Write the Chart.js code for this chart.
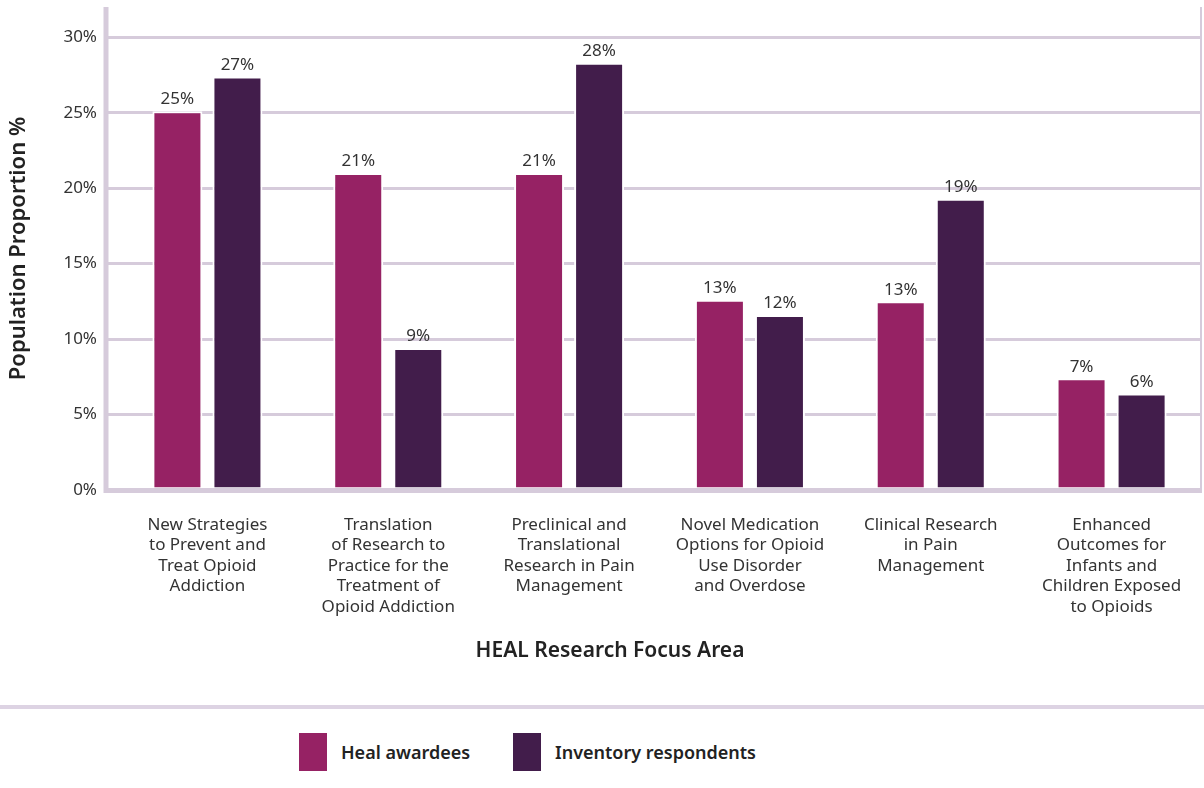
<!DOCTYPE html>
<html>
<head>
<meta charset="utf-8">
<script src="https://cdn.jsdelivr.net/npm/chart.js@4.4.1/dist/chart.umd.min.js"></script>
<style>
  body { margin: 0; background: #fff; font-family: "Noto Sans", sans-serif; }
  #wrap { width: 1204px; height: 788px; position: relative; }
  #legend { position: absolute; left: 0; top: 705px; width: 1204px; height: 83px;
            border-top: 4px solid #ddd3e3; box-sizing: border-box; }
  .item { position: absolute; top: 24px; display: flex; align-items: center;
          font-size: 18px; font-weight: 600; color: #222; }
  .box { width: 28px; height: 38px; margin-right: 14px; }
</style>
</head>
<body>
<div id="wrap">
  <canvas id="chart" width="1204" height="705"></canvas>
  <div id="legend"></div>
</div>
<script>
var categories = [
    ["New Strategies", "to Prevent and", "Treat Opioid", "Addiction"],
    ["Translation", "of Research to", "Practice for the", "Treatment of", "Opioid Addiction"],
    ["Preclinical and", "Translational", "Research in Pain", "Management"],
    ["Novel Medication", "Options for Opioid", "Use Disorder", "and Overdose"],
    ["Clinical Research", "in Pain", "Management"],
    ["Enhanced", "Outcomes for", "Infants and", "Children Exposed", "to Opioids"]
];
var healAwardees = [25.1, 21.0, 21.0, 12.6, 12.5, 7.4];
var inventoryRespondents = [27.4, 9.4, 28.3, 11.6, 19.3, 6.4];
var yTicks = [0, 5, 10, 15, 20, 25, 30];

var gridColor = '#d6cbdb';
var textColor = '#333';
var font = '"Noto Sans", sans-serif';

// axis frame lines and x title
var framePlugin = {
    id: 'frame',
    beforeDatasetsDraw: function (chart) {
        var ctx = chart.ctx, a = chart.chartArea;
        ctx.save();
        ctx.strokeStyle = gridColor;
        ctx.lineWidth = 5;
        ctx.beginPath();
        ctx.moveTo(a.left - 11, a.top);
        ctx.lineTo(a.left - 11, a.bottom + 3);
        ctx.stroke();
        ctx.lineWidth = 2;
        ctx.beginPath();
        ctx.moveTo(a.right - 1, a.top);
        ctx.lineTo(a.right - 1, a.bottom);
        ctx.stroke();
        ctx.restore();
    },
    afterDraw: function (chart) {
        var ctx = chart.ctx;
        ctx.save();
        ctx.fillStyle = '#222';
        ctx.font = '600 21px ' + font;
        ctx.textAlign = 'center';
        ctx.textBaseline = 'middle';
        ctx.fillText('HEAL Research Focus Area', 610, 651);
        ctx.restore();
    }
};

// value labels above bars
var valuePlugin = {
    id: 'values',
    afterDatasetsDraw: function (chart) {
        var ctx = chart.ctx;
        ctx.save();
        ctx.fillStyle = textColor;
        ctx.font = '17px ' + font;
        ctx.textAlign = 'center';
        ctx.textBaseline = 'bottom';
        chart.data.datasets.forEach(function (ds, i) {
            chart.getDatasetMeta(i).data.forEach(function (bar, j) {
                ctx.fillText(Math.round(ds.data[j]) + '%', bar.x, bar.y - 3);
            });
        });
        ctx.restore();
    }
};

var ctx = document.getElementById("chart");

var data = {
    labels: categories,
    datasets: [
        {
            label: 'Heal awardees',
            data: healAwardees,
            backgroundColor: '#962264',
            borderColor: '#fff',
            borderWidth: 2
        },
        {
            label: 'Inventory respondents',
            data: inventoryRespondents,
            backgroundColor: '#421d4b',
            borderColor: '#fff',
            borderWidth: 2
        }
    ]
};

var chart = new Chart(ctx, {
    type: 'bar',
    data: data,
    plugins: [framePlugin, valuePlugin],
    options: {
        responsive: false,
        animation: false,
        layout: { padding: { top: 7, right: 2, left: 0, bottom: 0 } },
        datasets: { bar: { barPercentage: 0.833, categoryPercentage: 0.664 } },
        plugins: {
            legend: { display: false },
            tooltip: { enabled: false }
        },
        scales: {
            x: {
                grid: { display: false },
                border: { display: false },
                ticks: {
                    autoSkip: false,
                    maxRotation: 0,
                    padding: 17,
                    color: textColor,
                    font: { family: font, size: 17, lineHeight: 1.2 }
                },
                afterFit: function (scale) {
                    scale.height = 215;
                    scale.paddingLeft = 0;
                    scale.paddingRight = 0;
                }
            },
            y: {
                min: 0,
                max: 32,
                border: { display: false },
                grid: {
                    color: gridColor,
                    lineWidth: function (c) { return c.tick && c.tick.value === 0 ? 5 : 3; },
                    tickLength: 11
                },
                ticks: {
                    stepSize: 5,
                    padding: 9,
                    color: textColor,
                    font: { family: font, size: 17 },
                    callback: function (v) { return v + '%'; }
                },
                afterBuildTicks: function (scale) {
                    scale.ticks = yTicks.map(function (v) { return { value: v }; });
                },
                title: {
                    display: true,
                    text: 'Population Proportion %',
                    color: '#222',
                    padding: 6,
                    font: { family: font, size: 22, weight: '600' }
                },
                afterFit: function (scale) {
                    scale.width = 117;
                    scale.paddingTop = 0;
                    scale.paddingBottom = 0;
                }
            }
        }
    }
});

// legend below the chart
var legend = document.getElementById('legend');
var legendLeft = [299, 513];
data.datasets.forEach(function (ds, i) {
    var item = document.createElement('div');
    item.className = 'item';
    item.style.left = legendLeft[i] + 'px';
    var box = document.createElement('span');
    box.className = 'box';
    box.style.background = ds.backgroundColor;
    item.appendChild(box);
    item.appendChild(document.createTextNode(ds.label));
    legend.appendChild(item);
});
</script>
</body>
</html>
